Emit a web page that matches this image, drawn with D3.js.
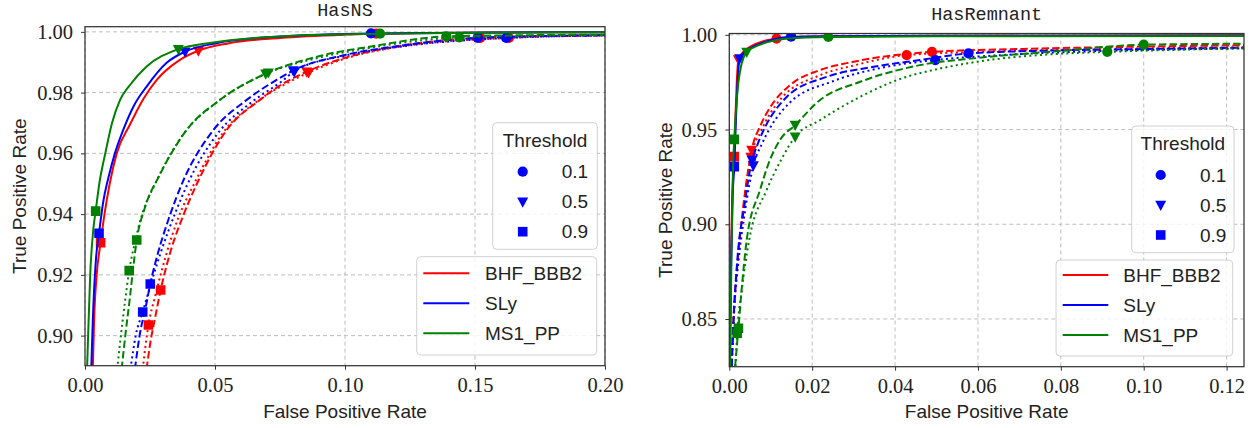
<!DOCTYPE html>
<html><head><meta charset="utf-8">
<script src="https://cdn.jsdelivr.net/npm/d3@7"></script>
<style>body{margin:0;background:#fff} svg{display:block}</style>
</head><body>
<svg id="c" width="1257" height="428"></svg>
<script>
// ---------------- DATA ----------------
const eosLabels = ["BHF_BBB2", "SLy", "MS1_PP"];
const thresholdLabels = ["0.1", "0.5", "0.9"];
const panelTitles = ["HasNS", "HasRemnant"];
const axisLabelX = "False Positive Rate";
const axisLabelY = "True Positive Rate";
const legendTitle = "Threshold";

const nsXTicks = [0.00, 0.05, 0.10, 0.15, 0.20];
const nsYTicks = [0.90, 0.92, 0.94, 0.96, 0.98, 1.00];
const remXTicks = [0.00, 0.02, 0.04, 0.06, 0.08, 0.10, 0.12];
const remYTicks = [0.85, 0.90, 0.95, 1.00];

// HasNS ROC curves [FPR, TPR]
const ns_BHF_solid = [[0.003,0.889],[0.0035,0.905],[0.0045,0.92],[0.006,0.9306],[0.0075,0.94],[0.0095,0.95],[0.0122,0.96],[0.0173,0.9695],[0.0225,0.978],[0.0276,0.9842],[0.0365,0.9908],[0.0436,0.9938],[0.055,0.9962],[0.075,0.998],[0.1,0.9991],[0.13,0.9996],[0.16,0.9998],[0.2,0.9999]];
const ns_SLy_solid = [[0.0024,0.889],[0.003,0.905],[0.0042,0.925],[0.0054,0.9337],[0.007,0.944],[0.009,0.952],[0.0115,0.96],[0.0147,0.9677],[0.019,0.976],[0.0237,0.982],[0.0314,0.9898],[0.0385,0.9935],[0.05,0.9962],[0.075,0.9985],[0.11,0.9995],[0.16,0.9998],[0.2,0.9999]];
const ns_MS1_solid = [[0.0008,0.889],[0.0012,0.9],[0.002,0.92],[0.0032,0.935],[0.0041,0.941],[0.0055,0.95],[0.0078,0.96],[0.0104,0.97],[0.0135,0.9776],[0.0173,0.9825],[0.0237,0.9886],[0.0359,0.9943],[0.0494,0.9965],[0.075,0.9985],[0.1135,0.9994],[0.16,0.9998],[0.2,0.9999]];
const ns_BHF_dashed = [[0.0237,0.889],[0.025,0.897],[0.027,0.906],[0.0291,0.915],[0.033,0.928],[0.038,0.94],[0.0436,0.951],[0.0545,0.9677],[0.0673,0.9776],[0.0753,0.9825],[0.0853,0.9869],[0.1,0.9915],[0.12,0.9952],[0.152,0.998],[0.2,0.9989]];
const ns_BHF_dotted = [[0.0222,0.889],[0.0244,0.9035],[0.027,0.913],[0.031,0.926],[0.036,0.939],[0.042,0.95],[0.053,0.9667],[0.066,0.977],[0.077,0.9828],[0.086,0.9866],[0.1,0.9912],[0.12,0.995],[0.163,0.998],[0.2,0.9988]];
const ns_SLy_dashed = [[0.0192,0.889],[0.021,0.9],[0.0235,0.91],[0.0251,0.917],[0.028,0.927],[0.032,0.938],[0.0378,0.951],[0.0494,0.9677],[0.0622,0.9776],[0.0737,0.9842],[0.0801,0.9873],[0.1,0.9924],[0.12,0.9953],[0.151,0.998],[0.2,0.9989]];
const ns_SLy_dotted = [[0.0175,0.889],[0.0195,0.9],[0.0222,0.9078],[0.025,0.916],[0.029,0.927],[0.035,0.941],[0.0395,0.95],[0.051,0.9665],[0.064,0.9768],[0.0755,0.9836],[0.0805,0.987],[0.1,0.9922],[0.12,0.995],[0.162,0.998],[0.2,0.9988]];
const ns_MS1_dashed = [[0.0141,0.889],[0.0155,0.9],[0.0172,0.912],[0.0185,0.922],[0.0199,0.9315],[0.023,0.942],[0.0288,0.953],[0.0391,0.9677],[0.0519,0.9776],[0.0705,0.9866],[0.09,0.992],[0.11,0.9952],[0.139,0.9985],[0.17,0.9989],[0.2,0.9991]];
const ns_MS1_dotted = [[0.0124,0.889],[0.0138,0.9],[0.0155,0.912],[0.017,0.9214],[0.019,0.93],[0.022,0.94],[0.027,0.95],[0.038,0.9665],[0.051,0.977],[0.0695,0.9862],[0.09,0.9915],[0.11,0.9948],[0.144,0.9982],[0.17,0.9987],[0.2,0.999]];

// HasNS threshold points [0.1, 0.5, 0.9]
const ns_BHF_solid_thr = [[0.112,0.9994],[0.0436,0.9938],[0.006,0.9306]];
const ns_SLy_solid_thr = [[0.11,0.9995],[0.0385,0.9935],[0.0054,0.9337]];
const ns_MS1_solid_thr = [[0.1135,0.9994],[0.0359,0.9943],[0.0041,0.941]];
const ns_BHF_dashed_thr = [[0.152,0.998],[0.0853,0.9869],[0.0291,0.915]];
const ns_BHF_dotted_thr = [[0.163,0.998],[0.086,0.9866],[0.0244,0.9035]];
const ns_SLy_dashed_thr = [[0.151,0.998],[0.0801,0.9873],[0.0251,0.917]];
const ns_SLy_dotted_thr = [[0.162,0.998],[0.0805,0.987],[0.0222,0.9078]];
const ns_MS1_dashed_thr = [[0.139,0.9985],[0.0705,0.9866],[0.0199,0.9315]];
const ns_MS1_dotted_thr = [[0.144,0.9982],[0.0695,0.9862],[0.017,0.9214]];

// HasRemnant ROC curves
const rem_BHF_solid = [[0.0001,0.825],[0.0004,0.88],[0.0008,0.92],[0.0012,0.9357],[0.0015,0.958],[0.0018,0.975],[0.0022,0.987],[0.0035,0.9912],[0.005,0.9937],[0.008,0.9965],[0.0114,0.998],[0.016,0.9988],[0.025,0.9992],[0.05,0.9995],[0.125,0.9998]];
const rem_SLy_solid = [[0.0001,0.825],[0.0004,0.875],[0.0008,0.915],[0.0012,0.9304],[0.0016,0.955],[0.002,0.975],[0.0025,0.9875],[0.004,0.9915],[0.006,0.994],[0.009,0.9965],[0.0149,0.999],[0.025,0.9993],[0.05,0.9995],[0.125,0.9997]];
const rem_MS1_solid = [[0.0002,0.825],[0.0005,0.88],[0.0009,0.93],[0.0012,0.9448],[0.0016,0.96],[0.0022,0.975],[0.003,0.985],[0.0042,0.991],[0.006,0.9935],[0.009,0.996],[0.014,0.998],[0.0239,0.9989],[0.05,0.9992],[0.125,0.9994]];
const rem_BHF_dashed = [[0.0005,0.825],[0.001,0.85],[0.002,0.88],[0.0034,0.91],[0.0045,0.928],[0.0054,0.9392],[0.0075,0.952],[0.0098,0.9615],[0.0147,0.9735],[0.0219,0.9814],[0.03,0.9858],[0.0489,0.991],[0.07,0.9925],[0.1,0.9938],[0.125,0.9945]];
const rem_BHF_dotted = [[0.0005,0.825],[0.001,0.85],[0.002,0.88],[0.0035,0.91],[0.0052,0.9355],[0.0075,0.9485],[0.0122,0.9656],[0.0219,0.9787],[0.03,0.9838],[0.0428,0.9893],[0.06,0.991],[0.09,0.9925],[0.125,0.9935]];
const rem_SLy_dashed = [[0.0006,0.825],[0.0012,0.8565],[0.002,0.8829],[0.0036,0.909],[0.0055,0.934],[0.0066,0.9409],[0.0139,0.9673],[0.0235,0.9778],[0.0348,0.9831],[0.046,0.9867],[0.0577,0.9902],[0.08,0.9918],[0.1,0.9925],[0.125,0.9932]];
const rem_SLy_dotted = [[0.0006,0.825],[0.0012,0.855],[0.0022,0.88],[0.0038,0.907],[0.0058,0.931],[0.008,0.943],[0.0145,0.964],[0.025,0.9755],[0.0365,0.9825],[0.0497,0.9867],[0.065,0.9892],[0.09,0.9915],[0.125,0.9928]];
const rem_MS1_dashed = [[0.0014,0.825],[0.0022,0.8451],[0.003,0.866],[0.0042,0.8917],[0.0074,0.918],[0.0098,0.9339],[0.0122,0.9444],[0.0159,0.9524],[0.0219,0.9656],[0.0316,0.9752],[0.046,0.984],[0.06,0.9878],[0.08,0.9915],[0.1,0.9948],[0.125,0.9953]];
const rem_MS1_dotted = [[0.0015,0.825],[0.0019,0.8425],[0.003,0.865],[0.0048,0.8917],[0.009,0.918],[0.0125,0.934],[0.0159,0.9462],[0.0219,0.955],[0.0316,0.9673],[0.043,0.978],[0.0492,0.9814],[0.0598,0.9858],[0.0815,0.9902],[0.0912,0.991],[0.11,0.9922],[0.125,0.993]];

// HasRemnant threshold points [0.1, 0.5, 0.9]  (null = outside the visible range)
const rem_BHF_solid_thr = [[0.0114,0.998],[0.0022,0.987],[0.0012,0.9357]];
const rem_SLy_solid_thr = [[0.0149,0.999],[0.0025,0.9875],[0.0012,0.9304]];
const rem_MS1_solid_thr = [[0.0239,0.9989],[0.0042,0.991],[0.0012,0.9448]];
const rem_BHF_dashed_thr = [[0.0489,0.991],[0.0054,0.9392],null];
const rem_BHF_dotted_thr = [[0.0428,0.9893],[0.0052,0.9355],null];
const rem_SLy_dashed_thr = [[0.0577,0.9902],[0.0055,0.934],null];
const rem_SLy_dotted_thr = [[0.0497,0.9867],[0.0058,0.931],null];
const rem_MS1_dashed_thr = [[0.1,0.9948],[0.0159,0.9524],[0.0022,0.8451]];
const rem_MS1_dotted_thr = [[0.0912,0.991],[0.0159,0.9462],[0.0019,0.8425]];

// ---------------- STYLE / LAYOUT ----------------
const colors = ["#ff0000", "#0000ff", "#008000"];
const dashes = {solid: null, dashed: "7.4,3.2", dotted: "2,3.3"};
const markerShapes = [d3.symbolCircle, "tri", d3.symbolSquare];

const panels = [
  {
    title: panelTitles[0], titleY: 16,
    x0: 85, x1: 605, yTop: 26.7, yBot: 365.7,
    xDom: [0, 0.2], yDom: [0.8901, 1.0017],
    xTicks: nsXTicks, yTicks: nsYTicks,
    curves: [
      [ns_BHF_solid, ns_BHF_dashed, ns_BHF_dotted],
      [ns_SLy_solid, ns_SLy_dashed, ns_SLy_dotted],
      [ns_MS1_solid, ns_MS1_dashed, ns_MS1_dotted]],
    thr: [
      [ns_BHF_solid_thr, ns_BHF_dashed_thr, ns_BHF_dotted_thr],
      [ns_SLy_solid_thr, ns_SLy_dashed_thr, ns_SLy_dotted_thr],
      [ns_MS1_solid_thr, ns_MS1_dashed_thr, ns_MS1_dotted_thr]],
    ylabelX: 19,
    thrBox: {x: 492.7, y: 122.7, w: 104.6, h: 126.6, mx: 522.7, tx: 561.7, rows: [171.7, 201.7, 231.7]},
    eosBox: {x: 416.7, y: 256.7, w: 180, h: 98.3, lx0: 423.3, lx1: 469.3, tx: 485, rows: [273.3, 303.3, 333.3]}
  },
  {
    title: panelTitles[1], titleY: 20,
    x0: 729.3, x1: 1244, yTop: 33.5, yBot: 366.7,
    xDom: [0, 0.1242], yDom: [0.8248, 1.0007],
    xTicks: remXTicks, yTicks: remYTicks,
    curves: [
      [rem_BHF_solid, rem_BHF_dashed, rem_BHF_dotted],
      [rem_SLy_solid, rem_SLy_dashed, rem_SLy_dotted],
      [rem_MS1_solid, rem_MS1_dashed, rem_MS1_dotted]],
    thr: [
      [rem_BHF_solid_thr, rem_BHF_dashed_thr, rem_BHF_dotted_thr],
      [rem_SLy_solid_thr, rem_SLy_dashed_thr, rem_SLy_dotted_thr],
      [rem_MS1_solid_thr, rem_MS1_dashed_thr, rem_MS1_dotted_thr]],
    ylabelX: 665,
    thrBox: {x: 1131.7, y: 126, w: 102.3, h: 126.7, mx: 1160.7, tx: 1200, rows: [175, 205, 235]},
    eosBox: {x: 1056, y: 260, w: 176.7, h: 96, lx0: 1062.7, lx1: 1108.3, tx: 1123.3, rows: [275, 305, 335]}
  }
];

const svg = d3.select("#c");
const SERIF = "'Liberation Serif', 'DejaVu Serif', serif";
const SANS = "'Liberation Sans', Arial, sans-serif";
const MONO = "'Liberation Mono', 'DejaVu Sans Mono', monospace";
const frameColor = "#333";

function markerPath(shape, size) {
  if (shape === "tri") {
    const s = size;
    return `M${-s/2},${-s*0.38}L${s/2},${-s*0.38}L0,${s*0.55}Z`;
  }
  return d3.symbol().type(shape).size(shape === d3.symbolCircle ? 82 : 92)();
}

panels.forEach((p, pi) => {
  const g = svg.append("g");
  const x = d3.scaleLinear().domain(p.xDom).range([p.x0, p.x1]);
  const y = d3.scaleLinear().domain(p.yDom).range([p.yBot, p.yTop]);

  const clipId = "clip" + pi;
  svg.append("clipPath").attr("id", clipId).append("rect")
    .attr("x", p.x0).attr("y", p.yTop).attr("width", p.x1 - p.x0).attr("height", p.yBot - p.yTop);

  // grid
  const grid = g.append("g").attr("stroke", "#bdbdbd").attr("stroke-width", 1).attr("stroke-dasharray", "4,3");
  p.xTicks.forEach(t => grid.append("line").attr("x1", x(t)).attr("x2", x(t)).attr("y1", p.yTop).attr("y2", p.yBot));
  p.yTicks.forEach(t => grid.append("line").attr("x1", p.x0).attr("x2", p.x1).attr("y1", y(t)).attr("y2", y(t)));

  // curves
  const plot = g.append("g").attr("clip-path", `url(#${clipId})`);
  const line = d3.line().x(d => x(d[0])).y(d => y(d[1])).curve(d3.curveMonotoneX);
  const styleKeys = ["solid", "dashed", "dotted"];
  p.curves.forEach((set, ci) => {
    set.forEach((data, si) => {
      plot.append("path").datum(data).attr("d", line)
        .attr("fill", "none").attr("stroke", colors[ci]).attr("stroke-width", 2)
        .attr("stroke-dasharray", dashes[styleKeys[si]]);
    });
    p.thr[ci].forEach(pts => {
      pts.forEach((pt, ti) => {
        if (!pt) return;
        plot.append("path").attr("d", markerPath(markerShapes[ti], 11))
          .attr("transform", `translate(${x(pt[0])},${y(pt[1])})`)
          .attr("fill", colors[ci]);
      });
    });
  });

  // frame
  g.append("rect").attr("x", p.x0).attr("y", p.yTop).attr("width", p.x1 - p.x0).attr("height", p.yBot - p.yTop)
    .attr("fill", "none").attr("stroke", frameColor).attr("stroke-width", 1.25);

  // axes
  const xAxis = d3.axisBottom(x).tickValues(p.xTicks).tickFormat(d3.format(".2f")).tickSize(4).tickPadding(8);
  const yAxis = d3.axisLeft(y).tickValues(p.yTicks).tickFormat(d3.format(".2f")).tickSize(4).tickPadding(8);
  const gx = g.append("g").attr("transform", `translate(0,${p.yBot})`).call(xAxis);
  const gy = g.append("g").attr("transform", `translate(${p.x0},0)`).call(yAxis);
  [gx, gy].forEach(a => {
    a.attr("font-family", SERIF).attr("font-size", 20.5);
    a.select(".domain").remove();
    a.selectAll(".tick line").attr("stroke", frameColor).attr("stroke-width", 1);
    a.selectAll(".tick text").attr("fill", "#222").style("font-family", SERIF).style("font-size", "20.5px");
  });

  // labels
  g.append("text").attr("x", (p.x0 + p.x1) / 2).attr("y", 418).attr("text-anchor", "middle")
    .style("font-family", SANS).style("font-size", "19px").attr("fill", "#222").text(axisLabelX);
  g.append("text").attr("transform", `translate(${p.ylabelX},${(p.yTop + p.yBot) / 2}) rotate(-90)`)
    .attr("text-anchor", "middle").attr("dy", "0.35em")
    .style("font-family", SANS).style("font-size", "19px").attr("fill", "#222").text(axisLabelY);
  g.append("text").attr("x", (p.x0 + p.x1) / 2).attr("y", p.titleY).attr("text-anchor", "middle")
    .style("font-family", MONO).style("font-size", "18.5px").attr("fill", "#222").text(p.title);

  // threshold legend
  const tb = p.thrBox;
  g.append("rect").attr("x", tb.x).attr("y", tb.y).attr("width", tb.w).attr("height", tb.h).attr("rx", 4)
    .attr("fill", "#fff").attr("fill-opacity", 0.8).attr("stroke", "#d0d0d0");
  g.append("text").attr("x", tb.x + tb.w / 2).attr("y", tb.y + 17.5).attr("dy", "0.35em").attr("text-anchor", "middle")
    .style("font-family", SANS).style("font-size", "19px").attr("fill", "#222").text(legendTitle);
  thresholdLabels.forEach((lab, i) => {
    g.append("path").attr("d", markerPath(markerShapes[i], 11)).attr("transform", `translate(${tb.mx},${tb.rows[i]})`).attr("fill", colors[1]);
    g.append("text").attr("x", tb.tx).attr("y", tb.rows[i]).attr("dy", "0.35em")
      .style("font-family", SANS).style("font-size", "19px").attr("fill", "#222").text(lab);
  });

  // EOS legend
  const eb = p.eosBox;
  g.append("rect").attr("x", eb.x).attr("y", eb.y).attr("width", eb.w).attr("height", eb.h).attr("rx", 4)
    .attr("fill", "#fff").attr("fill-opacity", 0.8).attr("stroke", "#d0d0d0");
  eosLabels.forEach((lab, i) => {
    g.append("line").attr("x1", eb.lx0).attr("x2", eb.lx1).attr("y1", eb.rows[i]).attr("y2", eb.rows[i])
      .attr("stroke", colors[i]).attr("stroke-width", 2);
    g.append("text").attr("x", eb.tx).attr("y", eb.rows[i]).attr("dy", "0.35em")
      .style("font-family", SANS).style("font-size", "19px").attr("fill", "#222").text(lab);
  });
});
</script>
</body></html>
